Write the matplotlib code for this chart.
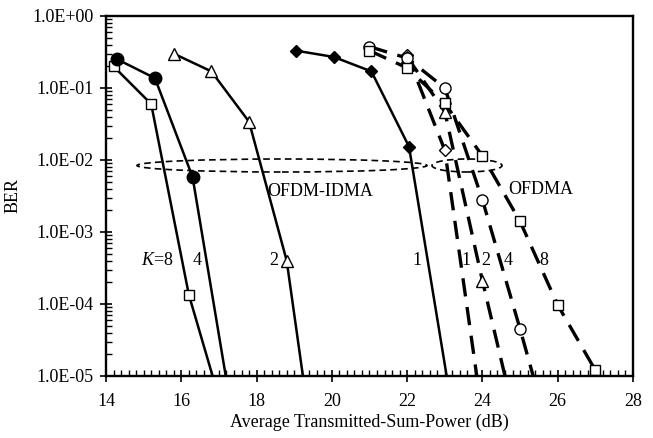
import matplotlib
matplotlib.use("Agg")
import matplotlib.pyplot as plt
from matplotlib.patches import Ellipse
from matplotlib.ticker import LogLocator, MultipleLocator, FixedFormatter, FixedLocator

plt.rcParams["font.family"] = ["Liberation Serif", "DejaVu Serif"]
plt.rcParams["mathtext.fontset"] = "custom"
plt.rcParams["mathtext.it"] = "Liberation Serif:italic"
plt.rcParams["mathtext.rm"] = "Liberation Serif"

# ---- OFDM-IDMA (solid) ----
idma_k8_x = [14.2, 15.2, 16.2, 17.0]
idma_k8_y = [0.2, 0.06, 1.35e-4, 5e-6]
idma_k4_x = [14.3, 15.3, 16.3, 17.5]
idma_k4_y = [0.25, 0.137, 0.0058, 1e-6]
idma_k2_x = [15.8, 16.8, 17.8, 18.8, 19.5]
idma_k2_y = [0.30, 0.17, 0.034, 4e-4, 1e-6]
idma_k1_x = [19.05, 20.05, 21.05, 22.05, 23.3]
idma_k1_y = [0.33, 0.27, 0.17, 0.0153, 1.6e-6]

# ---- OFDMA (dashed) ----
ofdma_k1_x = [22.0, 23.0, 24.0]
ofdma_k1_y = [0.29, 0.0137, 2.8e-6]
ofdma_k2_x = [22.0, 23.0, 24.0, 25.0]
ofdma_k2_y = [0.27, 0.047, 2.1e-4, 1.3e-6]
ofdma_k4_x = [21.0, 22.0, 23.0, 24.0, 25.0, 26.0]
ofdma_k4_y = [0.375, 0.26, 0.10, 0.0028, 4.5e-5, 6e-7]
ofdma_k8_x = [21.0, 22.0, 23.0, 24.0, 25.0, 26.0, 27.0]
ofdma_k8_y = [0.33, 0.19, 0.061, 0.0114, 0.0014, 9.7e-5, 1.2e-5]

# curve labels (x position, text)
label_y = 4.0e-4
idma_labels = [(15.35, "$K$=8"), (16.42, "4"), (18.45, "2"), (22.27, "1")]
ofdma_labels = [(23.56, "1"), (24.09, "2"), (24.68, "4"), (25.62, "8")]

y_ticks = [1e-5, 1e-4, 1e-3, 1e-2, 1e-1, 1e0]
y_tick_labels = ["1.0E-05", "1.0E-04", "1.0E-03", "1.0E-02", "1.0E-01", "1.0E+00"]

fig = plt.figure(figsize=(6.53, 4.38), dpi=100)
ax = fig.add_axes([106 / 653, 1 - 376 / 438, 527 / 653, 360 / 438])

lw = 1.8
dash = (0, (5.5, 3.2))

ax.plot(idma_k8_x, idma_k8_y, "-", color="black", lw=lw,
        marker="s", ms=7, mfc="white", mec="black", mew=1.0)
ax.plot(idma_k4_x, idma_k4_y, "-", color="black", lw=lw,
        marker="o", ms=9, mfc="black", mec="black")
ax.plot(idma_k2_x, idma_k2_y, "-", color="black", lw=lw,
        marker="^", ms=8, mfc="white", mec="black", mew=1.0)
ax.plot(idma_k1_x, idma_k1_y, "-", color="black", lw=lw,
        marker="D", ms=6.5, mfc="black", mec="black")

ax.plot(ofdma_k1_x, ofdma_k1_y, linestyle=dash, color="black", lw=2.4,
        marker="D", ms=6.5, mfc="white", mec="black", mew=1.0)
ax.plot(ofdma_k2_x, ofdma_k2_y, linestyle=dash, color="black", lw=2.4,
        marker="^", ms=8, mfc="white", mec="black", mew=1.0)
ax.plot(ofdma_k4_x, ofdma_k4_y, linestyle=dash, color="black", lw=2.4,
        marker="o", ms=8, mfc="white", mec="black", mew=1.0)
ax.plot(ofdma_k8_x, ofdma_k8_y, linestyle=dash, color="black", lw=2.4,
        marker="s", ms=7, mfc="white", mec="black", mew=1.0)

ax.set_xlim(14, 28)
ax.set_yscale("log")
ax.set_ylim(1e-5, 1)

for x, t in idma_labels + ofdma_labels:
    ax.text(x, label_y, t, fontsize=13, ha="center", va="center")

ax.text(19.7, 0.0037, "OFDM-IDMA", fontsize=13, ha="center", va="center")
ax.text(25.55, 0.0039, "OFDMA", fontsize=13, ha="center", va="center")

# dashed ellipses drawn in axes coordinates
ell_style = dict(fill=False, edgecolor="black", lw=1.2, linestyle=(0, (4, 2.5)),
                 transform=ax.transAxes, clip_on=False)
ax.add_patch(Ellipse(((282 - 106) / 527, (376 - 165.5) / 360),
                     290 / 527, 13 / 360, **ell_style))
ax.add_patch(Ellipse(((467 - 106) / 527, (376 - 165.5) / 360),
                     70 / 527, 13 / 360, **ell_style))

ax.xaxis.set_major_locator(MultipleLocator(2))
ax.xaxis.set_minor_locator(MultipleLocator(0.2))
ax.yaxis.set_major_locator(FixedLocator(y_ticks))
ax.yaxis.set_major_formatter(FixedFormatter(y_tick_labels))
ax.yaxis.set_minor_locator(LogLocator(base=10, subs=range(2, 10), numticks=20))

ax.tick_params(which="major", direction="inout", length=8, width=1.2,
               labelsize=13, top=False, right=False)
ax.tick_params(axis="x", which="major", pad=8)
ax.tick_params(axis="y", which="major", pad=5)
ax.tick_params(which="minor", direction="in", length=4, width=1.0,
               top=False, right=False)
ax.yaxis.set_minor_formatter(plt.NullFormatter())

for s in ax.spines.values():
    s.set_linewidth(1.7)

ax.set_xlabel("Average Transmitted-Sum-Power (dB)", fontsize=13, labelpad=3)
ax.set_ylabel("BER", fontsize=13, labelpad=8)

fig.savefig("out.png", dpi=100)
